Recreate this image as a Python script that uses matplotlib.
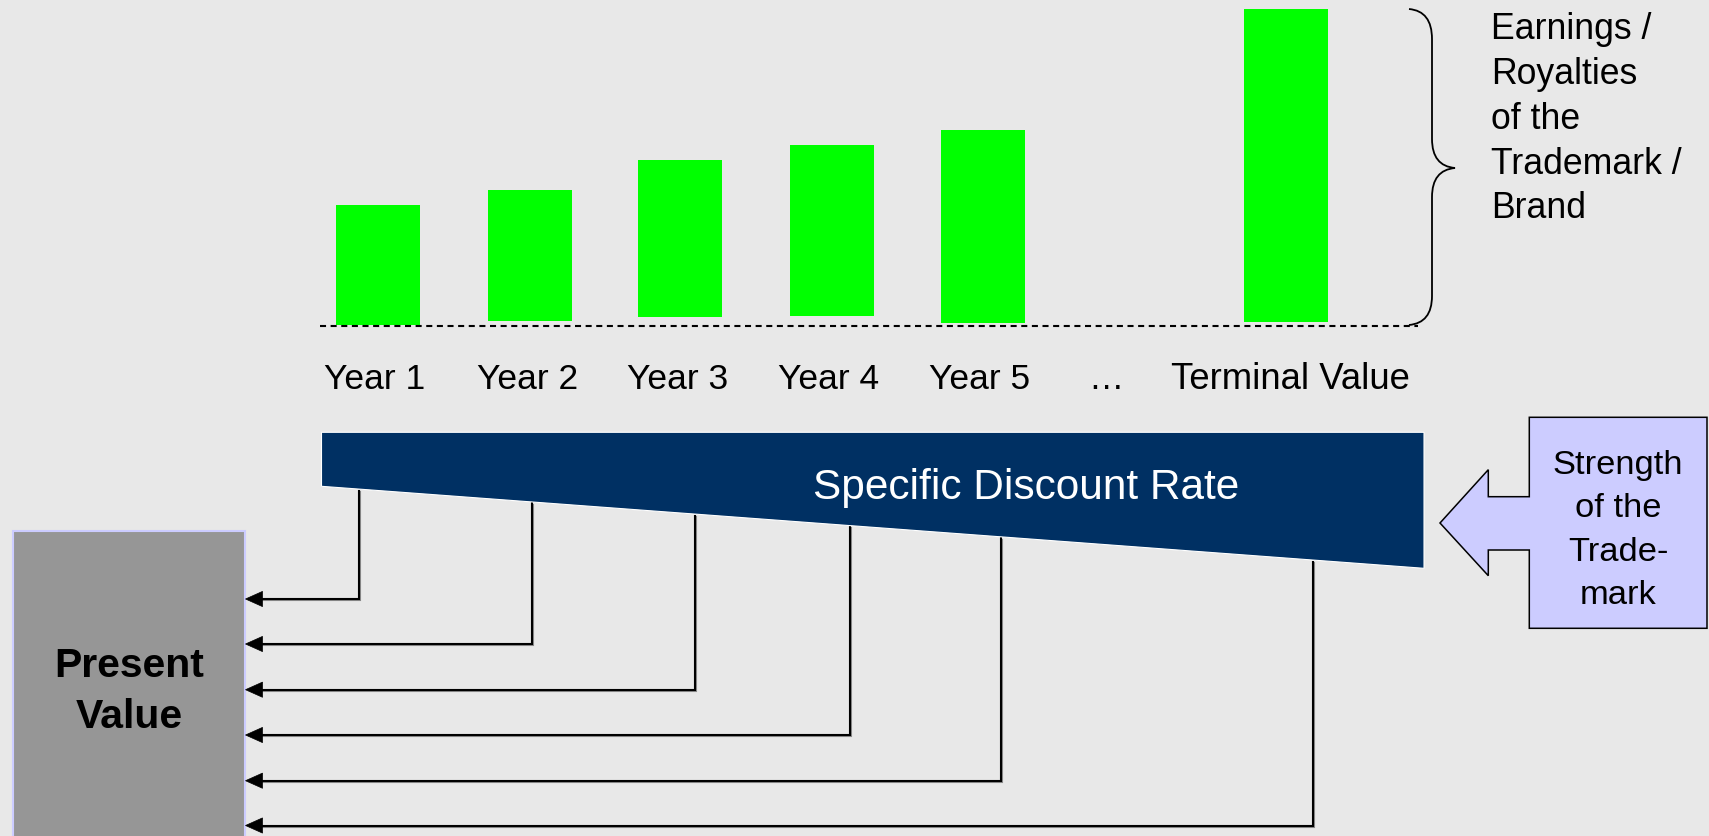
import matplotlib
matplotlib.use("Agg")
import matplotlib.pyplot as plt
from matplotlib.patches import Polygon, Rectangle, PathPatch
from matplotlib.path import Path
import matplotlib.patheffects as pe

plt.rcParams['font.family'] = ['Liberation Sans', 'DejaVu Sans']

# ---------------- data ----------------
categories = ["Year 1", "Year 2", "Year 3", "Year 4", "Year 5", "\u2026", "Terminal Value"]
bar_categories = ["Year 1", "Year 2", "Year 3", "Year 4", "Year 5", "Terminal Value"]
bar_values = [121, 136, 166, 181, 196, 317]          # earnings / royalties (relative height)
brace_label = ["Earnings /", "Royalties", "of the", "Trademark /", "Brand"]
strength_label = ["Strength", "of the", "Trade-", "mark"]
discount_label = "Specific Discount Rate"
present_label = ["Present", "Value"]

# ---------------- layout (pixel coordinates) ----------------
W, H = 1709, 837
bar_x = [378, 529.7, 680.4, 832, 983.3, 1286]
bar_gap = [1.6, 5.6, 9.6, 10.6, 3.6, 4.6]
bar_width = 84
label_x = [375, 527.5, 678, 829, 980, 1106, 1290.5]
label_size = [25.5, 25.5, 25.5, 25.5, 25.5, 25.5, 26.3]
label_y = 389
baseline = 327.3
arrow_y = [600, 645, 690.7, 736, 781.7, 826.5]
conn_x = [358.5, 531.5, 694.5, 849.5, 1000.5, 1313]

BG = '#e8e8e8'
GREEN = '#00ff00'
NAVY = '#003063'
LAV = '#ccccff'
GRAY = '#969696'

fig = plt.figure(figsize=(W / 100, H / 100), dpi=100)
fig.patch.set_facecolor(BG)
ax = fig.add_axes([0, 0, 1, 1])
ax.set_xlim(0, W)
ax.set_ylim(H, 0)
ax.axis('off')
ax.set_facecolor(BG)

# bars
bottoms = [baseline - g for g in bar_gap]
heights = [-(v - g) for v, g in zip(bar_values, bar_gap)]
ax.bar(bar_x, heights, bottom=bottoms, width=bar_width, color=GREEN, edgecolor='none', zorder=2)

# dashed baseline
ax.plot([320, 1418], [baseline, baseline], color='black', lw=1.5,
        ls=(0, (2.9, 2.2)), zorder=3)

# category labels
for lx, lab, fs in zip(label_x, categories, label_size):
    ax.text(lx, label_y, lab, ha='center', va='baseline', fontsize=fs, color='black')

# brace
verts = [(1409, 10), (1432, 12), (1432, 40), (1432, 140), (1432, 167), (1455, 169),
         (1432, 171), (1432, 198), (1432, 297), (1432, 324), (1409, 326)]
codes = [Path.MOVETO, Path.CURVE3, Path.CURVE3, Path.LINETO, Path.CURVE3, Path.CURVE3,
         Path.CURVE3, Path.CURVE3, Path.LINETO, Path.CURVE3, Path.CURVE3]
ax.add_patch(PathPatch(Path(verts, codes), facecolor='none', edgecolor='black', lw=1.3, zorder=3))

for i, t in enumerate(brace_label):
    ax.text(1491, 39.3 + 44.75 * i, t, ha='left', va='baseline', fontsize=25.7, color='black')

# discount-rate trapezoid
trap = [(321.5, 433.3), (1424, 433.3), (1424, 569.3), (321.5, 487.3)]
ax.add_patch(Polygon(trap, closed=True, facecolor=NAVY, edgecolor='white', lw=0.8, zorder=3))
ax.text(1026.3, 498.5, discount_label, ha='center', va='baseline', fontsize=30.5, color='white', zorder=4)

# strength callout
call = [(1529.3, 418.3), (1707, 418.3), (1707, 629.3), (1529.3, 629.3), (1529.3, 551),
        (1488.3, 551), (1488.3, 576.7), (1440, 524), (1488.3, 470.7), (1488.3, 497.7),
        (1529.3, 497.7)]
ax.add_patch(Polygon(call, closed=True, facecolor=LAV, edgecolor='black', lw=1.1, zorder=3))
for i, t in enumerate(strength_label):
    ax.text(1618, 474 + 43.4 * i, t, ha='center', va='baseline', fontsize=24.8, color='black', zorder=4)

# present value box
ax.add_patch(Rectangle((13.3, 532.3), 245 - 13.3, 320, facecolor=GRAY, edgecolor=LAV, lw=1.5, zorder=3))
ax.text(129, 676.7, present_label[0], ha='center', va='baseline', fontsize=29.5,
        fontweight='bold', color='black', zorder=4)
ax.text(129, 728.3, present_label[1], ha='center', va='baseline', fontsize=29.5,
        fontweight='bold', color='black', zorder=4)


def trap_bottom(x):
    return 487.3 + (x - 321.5) * (569.3 - 487.3) / (1424 - 321.5)


shadow = [pe.SimpleLineShadow(offset=(1.0, -1.0), shadow_color='#808080', alpha=0.9), pe.Normal()]
for cx, ay in zip(conn_x, arrow_y):
    ax.plot([cx, cx, 260], [trap_bottom(cx) + 1.5, ay, ay], color='black', lw=1.5,
            solid_joinstyle='miter', zorder=2, path_effects=shadow)
    ax.add_patch(Polygon([(245.5, ay), (262.5, ay - 7.6), (262.5, ay + 7.6)], closed=True,
                         facecolor='black', edgecolor='black', lw=0.5, zorder=4))

fig.savefig('out.png', dpi=100, facecolor=BG)
